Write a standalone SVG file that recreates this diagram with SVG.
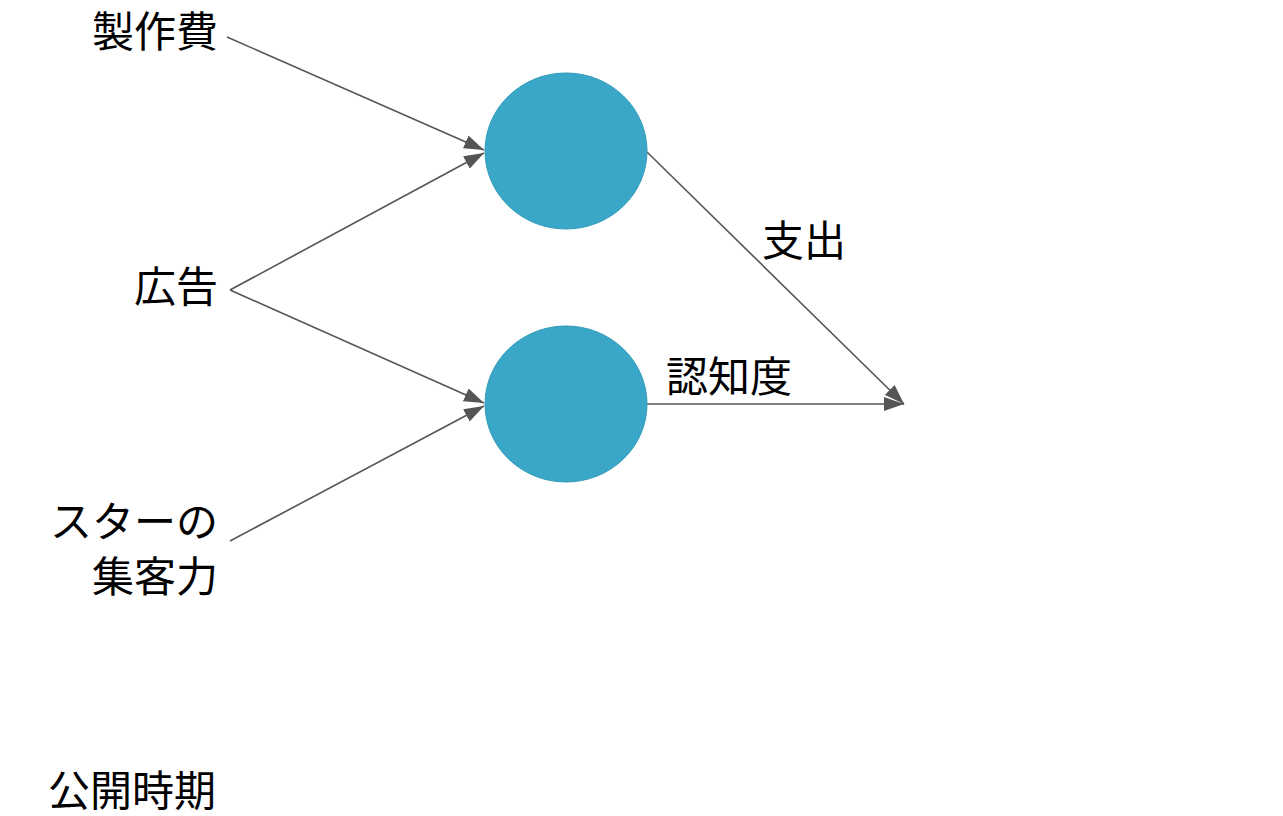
<svg xmlns="http://www.w3.org/2000/svg" width="1283" height="816" viewBox="0 0 1283 816">
<style>
text{font-family:"Noto Sans CJK JP","Noto Sans",sans-serif;font-size:42px;fill:#000}
.n{fill:#3aa7c9;stroke:#2f9ab8;stroke-width:1}
.e{stroke:#555;stroke-width:1.6;fill:none;marker-end:url(#a)}
</style>
<defs><marker id="a" viewBox="0 0 20 14" refX="20" refY="7" markerWidth="20" markerHeight="14" markerUnits="userSpaceOnUse" orient="auto"><path d="M0,0L20,7L0,14z" fill="#555"/></marker></defs>
<rect width="1283" height="816" fill="#fff"/>
<g id="connectors">
<path class="e" d="M227,37L484,150"/>
<path class="e" d="M230,290L484,153"/>
<path class="e" d="M230,290L484,403"/>
<path class="e" d="M230,541L484,406"/>
<path class="e" d="M647,152L904,404"/>
<path class="e" d="M647,404L904,404"/>
<text x="762" y="256">支出</text>
<text x="666" y="392">認知度</text>
</g>
<g id="n1"><ellipse class="n" cx="566" cy="151" rx="81" ry="78"/></g>
<g id="n2"><ellipse class="n" cx="566" cy="404" rx="81" ry="78"/></g>
<g id="l1"><text x="218" y="47" text-anchor="end">製作費</text></g>
<g id="l2"><text x="218" y="302" text-anchor="end">広告</text></g>
<g id="l3"><text x="218" y="537" text-anchor="end">スターの</text><text x="218" y="592" text-anchor="end">集客力</text></g>
<g id="l4"><text x="48" y="806">公開時期</text></g>
</svg>
